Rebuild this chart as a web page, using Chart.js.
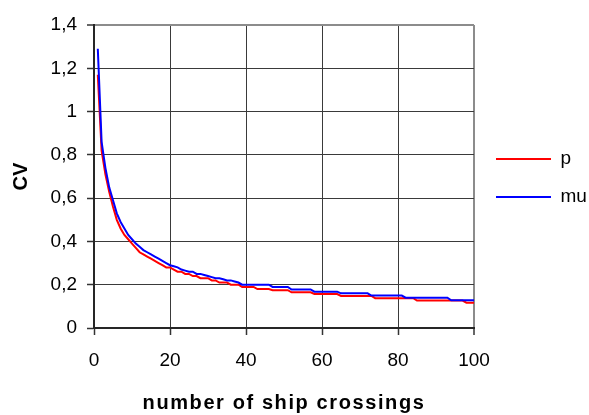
<!DOCTYPE html>
<html>
<head>
<meta charset="utf-8">
<script src="https://cdn.jsdelivr.net/npm/chart.js@4"></script>
<style>
  body { margin: 0; background: #fff; }
  #wrap { width: 589px; height: 415px; }
</style>
</head>
<body>
<div id="wrap"><canvas id="grafico" width="589" height="415"></canvas></div>
<script>
// number of ship crossings
const crossings = [
    1, 2, 3, 4, 5, 6, 7, 8, 9, 10,
    11, 12, 13, 14, 15, 16, 17, 18, 19, 20,
    21, 22, 23, 24, 25, 26, 27, 28, 29, 30,
    31, 32, 33, 34, 35, 36, 37, 38, 39, 40,
    41, 42, 43, 44, 45, 46, 47, 48, 49, 50,
    51, 52, 53, 54, 55, 56, 57, 58, 59, 60,
    61, 62, 63, 64, 65, 66, 67, 68, 69, 70,
    71, 72, 73, 74, 75, 76, 77, 78, 79, 80,
    81, 82, 83, 84, 85, 86, 87, 88, 89, 90,
    91, 92, 93, 94, 95, 96, 97, 98, 99, 100
];

// CV of p
const cvP = [
    1.17, 0.82, 0.71, 0.63, 0.56, 0.50, 0.46, 0.43, 0.41, 0.39,
    0.37, 0.35, 0.34, 0.33, 0.32, 0.31, 0.30, 0.29, 0.28, 0.28,
    0.27, 0.26, 0.26, 0.25, 0.25, 0.24, 0.24, 0.23, 0.23, 0.23,
    0.22, 0.22, 0.21, 0.21, 0.21, 0.20, 0.20, 0.20, 0.19, 0.19,
    0.19, 0.19, 0.18, 0.18, 0.18, 0.18, 0.175, 0.175, 0.175, 0.175,
    0.175, 0.165, 0.165, 0.165, 0.165, 0.165, 0.165, 0.157, 0.157, 0.157,
    0.157, 0.157, 0.157, 0.157, 0.148, 0.148, 0.148, 0.148, 0.148, 0.148,
    0.148, 0.148, 0.148, 0.138, 0.138, 0.138, 0.138, 0.138, 0.138, 0.138,
    0.138, 0.138, 0.138, 0.138, 0.127, 0.127, 0.127, 0.127, 0.127, 0.127,
    0.127, 0.127, 0.127, 0.127, 0.127, 0.127, 0.127, 0.117, 0.117, 0.117
];

// CV of mu
const cvMu = [
    1.29, 0.86, 0.74, 0.65, 0.59, 0.53, 0.49, 0.46, 0.43, 0.41,
    0.39, 0.375, 0.36, 0.35, 0.34, 0.33, 0.32, 0.31, 0.30, 0.29,
    0.285, 0.28, 0.27, 0.265, 0.26, 0.26, 0.25, 0.25, 0.245, 0.24,
    0.235, 0.23, 0.23, 0.225, 0.22, 0.22, 0.215, 0.21, 0.20, 0.20,
    0.20, 0.20, 0.20, 0.20, 0.20, 0.20, 0.19, 0.19, 0.19, 0.19,
    0.19, 0.178, 0.178, 0.178, 0.178, 0.178, 0.178, 0.168, 0.168, 0.168,
    0.168, 0.168, 0.168, 0.168, 0.16, 0.16, 0.16, 0.16, 0.16, 0.16,
    0.16, 0.16, 0.15, 0.15, 0.15, 0.15, 0.15, 0.15, 0.15, 0.15,
    0.15, 0.14, 0.14, 0.14, 0.14, 0.14, 0.14, 0.14, 0.14, 0.14,
    0.14, 0.14, 0.14, 0.128, 0.128, 0.128, 0.128, 0.128, 0.128, 0.128
];

const yTickLabels = ['0', '0,2', '0,4', '0,6', '0,8', '1', '1,2', '1,4'];

function pontos(valores) {
    return crossings.map((n, i) => ({ x: n, y: valores[i] }));
}

const fonte = 'Liberation Sans, Arial, sans-serif';

// small nudges: legend position, wider spacing of the x title
const ajustes = {
    id: 'ajustes',
    afterLayout(chart) {
        const lg = chart.legend;
        lg.left += 3; lg.right += 3;
        lg.top += 1.5; lg.bottom += 1.5;
    },
    beforeDraw(chart) {
        const sx = chart.scales.x;
        if (sx && !sx._espacado) {
            const orig = sx.drawTitle;
            sx.drawTitle = function () {
                const c = this.ctx;
                c.save();
                c.letterSpacing = '1.6px';
                orig.apply(this, arguments);
                c.restore();
            };
            sx._espacado = true;
        }
    }
};

function graficoCV() {
    const ctx = document.getElementById('grafico');

    new Chart(ctx, {
        type: 'line',
        data: {
            datasets: [{
                label: 'p',
                data: pontos(cvP),
                borderColor: '#ff0000',
                backgroundColor: '#ff0000',
                borderWidth: 2,
                pointRadius: 0,
                tension: 0,
                order: 1
            }, {
                label: 'mu',
                data: pontos(cvMu),
                borderColor: '#0000ff',
                backgroundColor: '#0000ff',
                borderWidth: 2,
                pointRadius: 0,
                tension: 0,
                order: 0
            }]
        },
        plugins: [ajustes],
        options: {
            responsive: false,
            animation: false,
            layout: {
                padding: { top: 25, right: 0, bottom: 0, left: 0 }
            },
            plugins: {
                tooltip: { enabled: false },
                legend: {
                    position: 'right',
                    align: 'center',
                    fullSize: false,
                    maxWidth: 115,
                    labels: {
                        color: '#000',
                        font: { family: fonte, size: 19 },
                        boxWidth: 55,
                        boxHeight: 2,
                        padding: 19,
                        sort: (a, b) => a.datasetIndex - b.datasetIndex,
                        generateLabels: chart => Chart.defaults.plugins.legend.labels.generateLabels(chart)
                            .map(l => Object.assign(l, { lineWidth: 0, fillStyle: l.strokeStyle }))
                    }
                }
            },
            scales: {
                x: {
                    type: 'linear',
                    min: 0,
                    max: 100,
                    afterFit: s => { s.height = 87; },
                    ticks: {
                        stepSize: 20,
                        color: '#000',
                        padding: 14,
                        font: { family: fonte, size: 19 }
                    },
                    grid: {
                        color: c => c.tick && c.tick.value === 100 ? '#8c8c8c' : '#3a3a3a',
                        lineWidth: c => c.tick && c.tick.value === 100 ? 2 : 1,
                        tickColor: '#333',
                        tickLength: 7,
                        tickWidth: 1.5
                    },
                    border: { color: '#262626', width: 2 },
                    title: {
                        display: true,
                        text: 'number of ship crossings',
                        color: '#000',
                        padding: { top: 0, bottom: 0 },
                        font: { family: fonte, size: 20, weight: 'bold' }
                    }
                },
                y: {
                    min: 0,
                    max: 1.4,
                    afterFit: s => { s.width = 94; },
                    ticks: {
                        stepSize: 0.2,
                        color: '#000',
                        padding: 10,
                        font: { family: fonte, size: 19 },
                        callback: (v, i) => yTickLabels[i]
                    },
                    grid: {
                        color: c => c.tick && Math.abs(c.tick.value - 1.4) < 1e-6 ? '#8c8c8c' : '#3a3a3a',
                        lineWidth: c => c.tick && Math.abs(c.tick.value - 1.4) < 1e-6 ? 2 : 1,
                        tickColor: '#333',
                        tickLength: 7,
                        tickWidth: 1.5
                    },
                    border: { color: '#262626', width: 2 },
                    title: {
                        display: true,
                        text: 'CV',
                        color: '#000',
                        padding: { top: 9, bottom: 0 },
                        font: { family: fonte, size: 20, weight: 'bold' }
                    }
                }
            }
        }
    });
}

graficoCV();
</script>
</body>
</html>
